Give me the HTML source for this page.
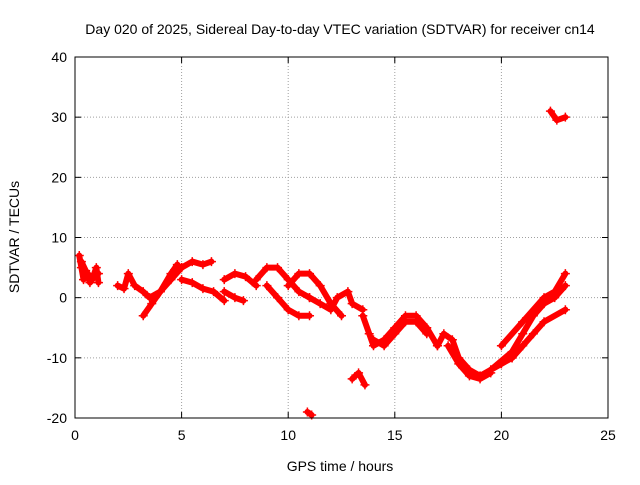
<!DOCTYPE html>
<html><head><meta charset="utf-8"><style>
body{margin:0;background:#fff;}
svg text{font-family:"Liberation Sans",sans-serif;font-size:14px;fill:#000;}
</style></head><body>
<svg width="640" height="480">
<g id="grid"></g><g id="marks"></g><g id="axes"></g>
<text x="340" y="34" text-anchor="middle">Day 020 of 2025, Sidereal Day-to-day VTEC variation (SDTVAR) for receiver cn14</text>
<text x="340" y="471" text-anchor="middle">GPS time / hours</text>
<text transform="translate(19,237) rotate(-90)" text-anchor="middle">SDTVAR / TECUs</text>
</svg>
<script>
const xTicks=[0,5,10,15,20,25];
const yTicks=[-20,-10,0,10,20,30,40];
const trackA=[[0.2,7],[0.3,5],[0.4,3],[0.6,4],[0.8,3],[1.0,5],[1.1,2.5]];
const trackA2=[[0.3,6],[0.5,4.5],[0.7,2.5],[0.9,3.5],[1.1,4]];
const trackB=[[2,2],[2.3,1.5],[2.5,4],[2.8,2],[3.2,1],[3.5,0],[4,1],[4.5,4],[4.8,5.5]];
const trackB2=[[3.2,-3],[3.6,-1],[4,1],[4.5,3],[5,5]];
const trackC=[[5,5],[5.5,6],[6,5.5],[6.4,6]];
const trackC2=[[5,3],[5.5,2.5],[6,1.5],[6.5,1],[7,-0.5]];
const trackD=[[7,3],[7.5,4],[8,3.5],[8.5,2]];
const trackD2=[[7,1],[7.5,0],[7.9,-0.5]];
const trackE=[[8.5,3],[9,5],[9.5,5],[10,3],[10.5,1],[11,0]];
const trackE2=[[9,2],[9.5,0],[10,-2],[10.5,-3],[11,-3]];
const trackF=[[10,2],[10.5,4],[11,4],[11.5,2],[12,-1],[12.5,-3]];
const trackF2=[[11,0],[11.5,-1],[12,-2],[12.3,0],[12.8,1],[13,-1],[13.5,-2]];
const trackG=[[13.5,-3],[13.8,-6],[14,-8],[14.5,-7],[15,-5],[15.5,-3],[16,-3],[16.5,-5],[17,-8]];
const trackG2=[[14,-7],[14.5,-8],[15,-6],[15.5,-4],[16,-4],[16.5,-6]];
const trackH=[[17,-8],[17.3,-6],[17.7,-7],[18,-10],[18.5,-12],[19,-13],[19.5,-12],[20,-11],[20.5,-10],[21,-8]];
const trackH2=[[17.5,-8],[18,-11],[18.5,-13],[19,-13.5],[19.5,-12.5]];
const trackI=[[20,-8],[21,-4],[22,0],[22.5,1],[23,4]];
const trackI2=[[20.5,-10],[21.5,-6],[22,-4],[23,-2]];
const trackI3=[[19.5,-12],[20.5,-9],[21,-6],[21.5,-3],[22,-1],[22.5,0],[23,2]];
const outA=[[13,-13.5],[13.3,-12.5],[13.6,-14.5]];
const outB=[[10.9,-19],[11.1,-19.5]];
const outC=[[22.3,31],[22.6,29.5],[23,30]];
const series=[trackA,trackA2,trackB,trackB2,trackC,trackC2,trackD,trackD2,trackE,trackE2,trackF,trackF2,trackG,trackG2,trackH,trackH2,trackI,trackI2,trackI3,outA,outB,outC];
const X0=75,X1=608,Y0=418,Y1=57;
const xs=v=>X0+(v-0)/(25-0)*(X1-X0);
const ys=v=>Y0-(v+20)/60*(Y0-Y1);
const NS="http://www.w3.org/2000/svg";
function mk(t,a,p){const e=document.createElementNS(NS,t);for(const k in a)e.setAttribute(k,a[k]);p.appendChild(e);return e;}
const grid=document.getElementById('grid'),axes=document.getElementById('axes'),marks=document.getElementById('marks');
xTicks.forEach(v=>{const x=xs(v);
 if(v>0&&v<25){const g=mk('line',{x1:x,x2:x,y1:Y0,y2:Y1,stroke:'#a0a0a0','stroke-dasharray':'1,2'},grid);}
 mk('line',{x1:x,x2:x,y1:Y0,y2:Y0-6,stroke:'#000'},axes);mk('line',{x1:x,x2:x,y1:Y1,y2:Y1+6,stroke:'#000'},axes);
 const t=mk('text',{x:x,y:Y0+22,'text-anchor':'middle'},axes);t.textContent=v;
 });
yTicks.forEach(v=>{const y=ys(v);
 if(v>-20&&v<40){const g=mk('line',{x1:X0,x2:X1,y1:y,y2:y,stroke:'#a0a0a0','stroke-dasharray':'1,2'},grid);}
 mk('line',{x1:X0,x2:X0+6,y1:y,y2:y,stroke:'#000'},axes);mk('line',{x1:X1,x2:X1-6,y1:y,y2:y,stroke:'#000'},axes);
 const t=mk('text',{x:X0-8,y:y+5,'text-anchor':'end'},axes);t.textContent=v;
 });
const fr=mk('rect',{x:X0,y:Y1,width:X1-X0,height:Y0-Y1,fill:'none',stroke:'#000'},axes);

series.forEach(s=>{
 const pl=mk('polyline',{points:s.map(p=>xs(p[0])+','+ys(p[1])).join(' '),fill:'none',stroke:'#f00','stroke-width':6,'stroke-linejoin':'round','stroke-linecap':'round'},marks);
 
 s.forEach(p=>{const x=xs(p[0]),y=ys(p[1]);
  const m=mk('path',{d:`M${x-4.5},${y}H${x+4.5}M${x},${y-4.5}V${y+4.5}`,stroke:'#f00','stroke-width':1.5},marks);
  });
});
</script>
</body></html>
